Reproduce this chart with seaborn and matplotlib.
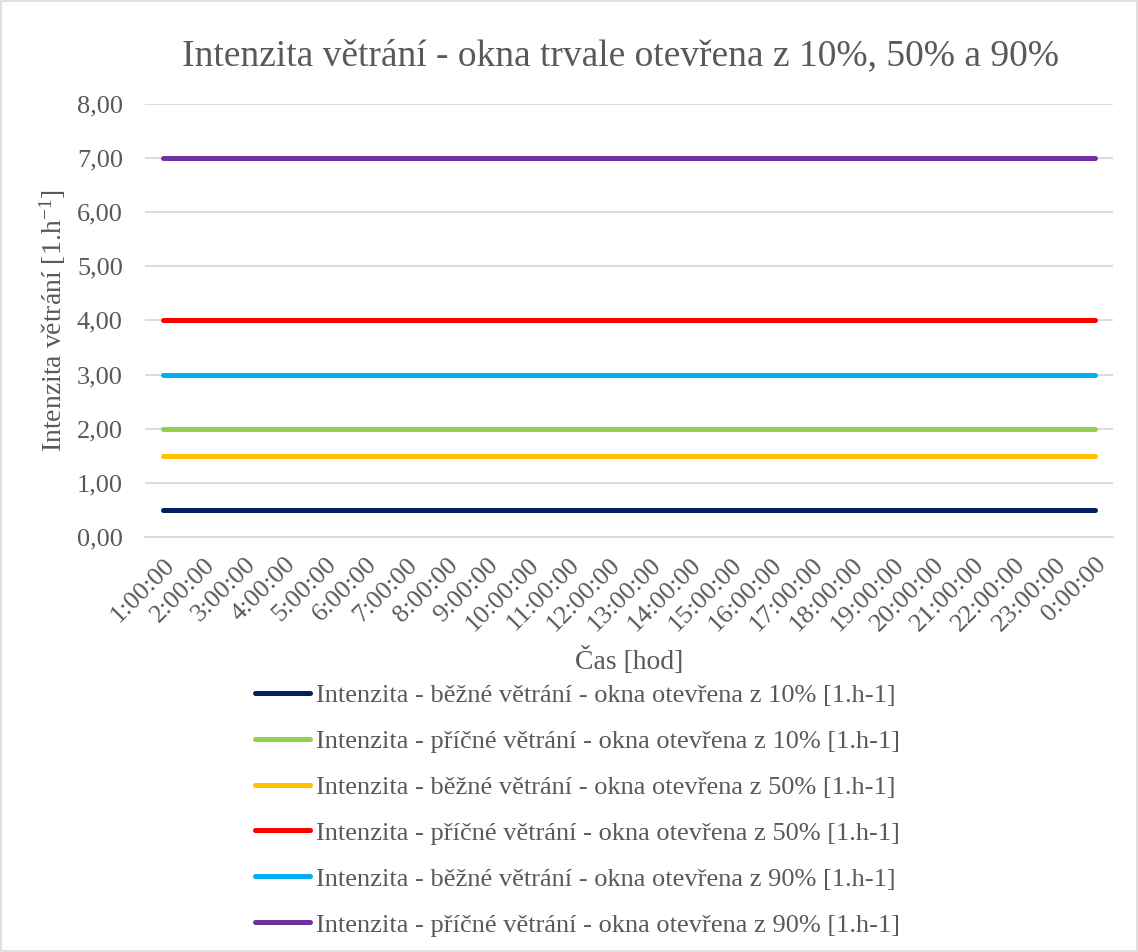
import pandas as pd
import matplotlib.pyplot as plt
import seaborn as sns
from matplotlib.patches import Rectangle

# Časy (osa x)
hours = [f"{h}:00:00" for h in range(1, 24)] + ["0:00:00"]

# Názvy řad
series_names = [
    "Intenzita - běžné větrání - okna otevřena z 10% [1.h-1]",
    "Intenzita - příčné větrání - okna otevřena z 10% [1.h-1]",
    "Intenzita - běžné větrání - okna otevřena z 50% [1.h-1]",
    "Intenzita - příčné větrání - okna otevřena z 50% [1.h-1]",
    "Intenzita - běžné větrání - okna otevřena z 90% [1.h-1]",
    "Intenzita - příčné větrání - okna otevřena z 90% [1.h-1]",
]

# Hodnoty (konstantní po celý den)
bezne_10 = [0.5] * 24
pricne_10 = [2.0] * 24
bezne_50 = [1.5] * 24
pricne_50 = [4.0] * 24
bezne_90 = [3.0] * 24
pricne_90 = [7.0] * 24

colors = ["#002060", "#92D050", "#FFC000", "#FF0000", "#00B0F0", "#7030A0"]

# Long-form tabulka pro seaborn
values = [bezne_10, pricne_10, bezne_50, pricne_50, bezne_90, pricne_90]
frames = []
for name, vals in zip(series_names, values):
    frames.append(pd.DataFrame({"cas": hours, "hodnota": vals, "rada": name}))
df = pd.concat(frames, ignore_index=True)

sns.set_style("white")
FONT = "Liberation Serif"
plt.rcParams["font.family"] = [FONT, "DejaVu Serif"]
plt.rcParams["mathtext.fontset"] = "custom"
plt.rcParams["mathtext.rm"] = FONT
plt.rcParams["mathtext.it"] = FONT + ":italic"
text_color = "#595959"

fig = plt.figure(figsize=(11.38, 9.52), dpi=100)
ax = fig.add_axes([0.1274, 0.436, 0.851, 0.4548])

sns.lineplot(data=df, x="cas", y="hodnota", hue="rada", palette=colors,
             linewidth=3.6, ax=ax, solid_capstyle="round")

ax.set_xlim(-0.45, 23.45)
ax.set_ylim(0, 8)
ax.set_yticks(range(0, 9))
ax.set_yticklabels([f"{v},00" for v in range(0, 9)])
ax.yaxis.grid(True, color="#D9D9D9", linewidth=1.3)
ax.set_axisbelow(True)
for s in ax.spines.values():
    s.set_visible(False)
ax.spines["bottom"].set_visible(True)
ax.spines["bottom"].set_color("#D9D9D9")
ax.spines["bottom"].set_linewidth(1.3)

ax.tick_params(axis="y", length=0, labelsize=19, colors=text_color, pad=16)
ax.tick_params(axis="x", length=0, labelsize=19, colors=text_color, pad=12)
for lab in ax.get_yticklabels():
    lab.set_family(FONT)
for lab in ax.get_xticklabels():
    lab.set_family(FONT)
    lab.set_rotation(45)
    lab.set_ha("right")
    lab.set_rotation_mode("anchor")

ax.set_xlabel("Čas [hod]", fontsize=20, color=text_color, labelpad=8, family=FONT)
ax.set_ylabel("Intenzita větrání [1.h$^{-1}$]", fontsize=20, color=text_color,
              labelpad=6, family=FONT)
ax.set_title("Intenzita větrání - okna trvale otevřena z 10%, 50% a 90%",
             fontsize=27, color=text_color, pad=28, family=FONT, x=0.4907)

handles, labels = ax.get_legend_handles_labels()
leg = ax.legend(handles, labels, loc="upper left", bbox_to_anchor=(0.224, 0.282),
                bbox_transform=fig.transFigure, frameon=False,
                prop={"family": FONT, "size": 19},
                handlelength=2.1, handletextpad=0.2, labelspacing=0.85,
                borderaxespad=0, borderpad=0)
for t in leg.get_texts():
    t.set_color(text_color)
for l in leg.get_lines():
    l.set_linewidth(3.6)

fig.patches.append(Rectangle((0.001, 0.001), 0.998, 0.998, transform=fig.transFigure,
                             fill=False, edgecolor="#D9D9D9", linewidth=1.2))

fig.savefig("out.png", dpi=100)
